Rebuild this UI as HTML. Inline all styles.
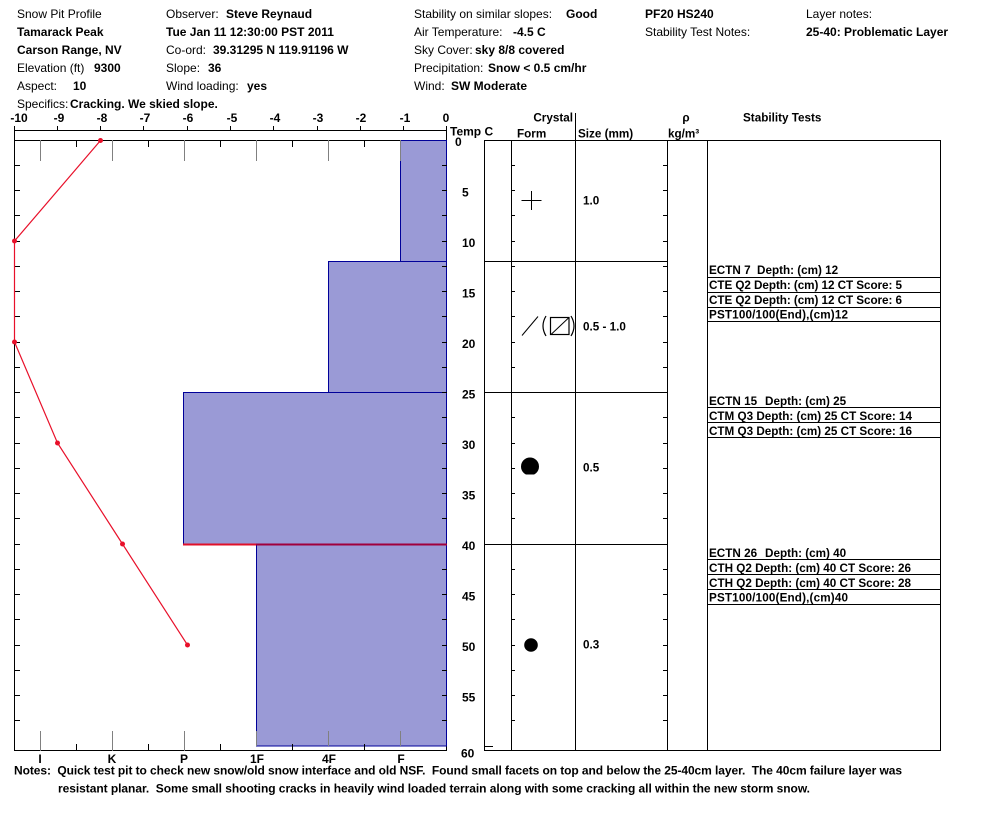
<!DOCTYPE html>
<html>
<head>
<meta charset="utf-8">
<style>
html,body{margin:0;padding:0;background:#fff;}
svg{display:block;}
text{font-family:"Liberation Sans",Arial,sans-serif;fill:#000;}
.h{font-size:12px;}
.b{font-weight:bold;}
.c{font-size:11.7px;font-weight:bold;}
</style>
</head>
<body>
<svg width="994" height="840" viewBox="0 0 994 840" xmlns="http://www.w3.org/2000/svg">
<rect x="0" y="0" width="994" height="840" fill="#fff"/>

<!-- Header -->
<g class="h">
<text x="17" y="18" class="h">Snow Pit Profile</text>
<text x="17" y="36" class="h b">Tamarack Peak</text>
<text x="17" y="54" class="h b">Carson Range, NV</text>
<text x="17" y="72" class="h">Elevation (ft)</text><text x="94" y="72" class="h b">9300</text>
<text x="17" y="90" class="h">Aspect:</text><text x="73" y="90" class="h b">10</text>
<text x="17" y="108" class="h">Specifics:</text><text x="70" y="108" class="h b">Cracking. We skied slope.</text>

<text x="166" y="18" class="h">Observer:</text><text x="226" y="18" class="h b">Steve Reynaud</text>
<text x="166" y="36" class="h b">Tue Jan 11 12:30:00 PST 2011</text>
<text x="166" y="54" class="h">Co-ord:</text><text x="213" y="54" class="h b">39.31295 N 119.91196 W</text>
<text x="166" y="72" class="h">Slope:</text><text x="208" y="72" class="h b">36</text>
<text x="166" y="90" class="h">Wind loading:</text><text x="247" y="90" class="h b">yes</text>

<text x="414" y="18" class="h">Stability on similar slopes:</text><text x="566" y="18" class="h b">Good</text>
<text x="414" y="36" class="h">Air Temperature:</text><text x="513" y="36" class="h b">-4.5 C</text>
<text x="414" y="54" class="h">Sky Cover:</text><text x="475" y="54" class="h b">sky 8/8 covered</text>
<text x="414" y="72" class="h">Precipitation:</text><text x="488" y="72" class="h b">Snow &lt; 0.5 cm/hr</text>
<text x="414" y="90" class="h">Wind:</text><text x="451" y="90" class="h b">SW Moderate</text>

<text x="645" y="18" class="h b">PF20 HS240</text>
<text x="645" y="36" class="h">Stability Test Notes:</text>
<text x="806" y="18" class="h">Layer notes:</text>
<text x="806" y="36" class="h b">25-40: Problematic Layer</text>
</g>

<!-- Temperature axis -->
<g class="h b" text-anchor="middle">
<text x="19" y="122" class="h b">-10</text>
<text x="59" y="122" class="h b">-9</text>
<text x="102" y="122" class="h b">-8</text>
<text x="145" y="122" class="h b">-7</text>
<text x="188" y="122" class="h b">-6</text>
<text x="232" y="122" class="h b">-5</text>
<text x="275" y="122" class="h b">-4</text>
<text x="318" y="122" class="h b">-3</text>
<text x="361" y="122" class="h b">-2</text>
<text x="405" y="122" class="h b">-1</text>
<text x="446" y="122" class="h b">0</text>
</g>
<path d="M14 130.5H447 M57.5 126V131 M100.5 126V131 M143.5 126V131 M187.5 126V131 M230.5 126V131 M273.5 126V131 M317.5 126V131 M360.5 126V131 M403.5 126V131 M14.5 126V140 M446.5 126V140" stroke="#000" stroke-width="1" fill="none"/>
<text x="450" y="135.5" class="c" style="font-size:12px">Temp C</text>

<!-- Graph box -->
<rect x="14.5" y="140.5" width="432" height="610" fill="#fff" stroke="#000" stroke-width="1"/>

<!-- Hardness bars -->
<g fill="#9a9ad6" stroke="#000099" stroke-width="1">
<rect x="400.5" y="140.5" width="46" height="121"/>
<rect x="328.5" y="261.5" width="118" height="131"/>
<rect x="183.5" y="392.5" width="263" height="152"/>
<rect x="256.5" y="544.5" width="190" height="201.5"/>
</g>
<!-- failure layer line -->
<line x1="183" y1="544.5" x2="256" y2="544.5" stroke="#e0102a" stroke-width="2"/>
<line x1="256" y1="544.5" x2="447" y2="544.5" stroke="#a0003c" stroke-width="2"/>

<!-- hardness gray lines & ticks -->
<path d="M40.5 140V161 M112.5 140V161 M184.5 140V161 M256.5 140V161 M328.5 140V161 M400.5 140V161 M40.5 731V751 M112.5 731V751 M184.5 731V751 M256.5 731V746 M328.5 731V746 M400.5 731V746" stroke="#808080" stroke-width="1"/>
<path d="M76.5 140V147 M148.5 140V147 M220.5 140V147 M292.5 140V147 M364.5 140V147 M76.5 744V751 M148.5 744V751 M220.5 744V751 M292.5 744V751 M364.5 744V751" stroke="#000" stroke-width="1"/>

<!-- depth ticks on graph edges and table -->
<path d="M14 165.5h6 M14 190.5h6 M14 215.5h6 M14 241.5h6 M14 266.5h6 M14 291.5h6 M14 316.5h6 M14 342.5h6 M14 367.5h6 M14 392.5h6 M14 417.5h6 M14 443.5h6 M14 468.5h6 M14 493.5h6 M14 518.5h6 M14 544.5h6 M14 569.5h6 M14 594.5h6 M14 619.5h6 M14 645.5h6 M14 670.5h6 M14 695.5h6 M14 720.5h6
M442 165.5h5 M442 190.5h5 M442 215.5h5 M442 241.5h5 M442 266.5h5 M442 291.5h5 M442 316.5h5 M442 342.5h5 M442 367.5h5 M442 392.5h5 M442 417.5h5 M442 443.5h5 M442 468.5h5 M442 493.5h5 M442 518.5h5 M442 569.5h5 M442 594.5h5 M442 619.5h5 M442 645.5h5 M442 670.5h5 M442 695.5h5 M442 720.5h5
M511 165.5h4 M511 190.5h4 M511 215.5h4 M511 241.5h4 M511 266.5h4 M511 291.5h4 M511 316.5h4 M511 342.5h4 M511 367.5h4 M511 417.5h4 M511 443.5h4 M511 468.5h4 M511 493.5h4 M511 518.5h4 M511 569.5h4 M511 594.5h4 M511 619.5h4 M511 645.5h4 M511 670.5h4 M511 695.5h4 M511 720.5h4
M663 165.5h4 M663 190.5h4 M663 215.5h4 M663 241.5h4 M663 266.5h4 M663 291.5h4 M663 316.5h4 M663 342.5h4 M663 367.5h4 M663 417.5h4 M663 443.5h4 M663 468.5h4 M663 493.5h4 M663 518.5h4 M663 569.5h4 M663 594.5h4 M663 619.5h4 M663 645.5h4 M663 670.5h4 M663 695.5h4 M663 720.5h4" stroke="#000" stroke-width="1" fill="none"/>

<!-- Temperature profile -->
<polyline points="100.5,140.5 14.5,241 14.5,342 57.5,443 122.5,544 187.5,645" fill="none" stroke="#e8102a" stroke-width="1.2"/>
<g fill="#e8102a">
<circle cx="100.5" cy="140.5" r="2.5"/>
<circle cx="14.5" cy="241" r="2.5"/>
<circle cx="14.5" cy="342" r="2.5"/>
<circle cx="57.5" cy="443" r="2.5"/>
<circle cx="122.5" cy="544" r="2.5"/>
<circle cx="187.5" cy="645" r="2.5"/>
</g>

<!-- hardness labels -->
<g text-anchor="middle">
<text x="40" y="763" class="h b">I</text>
<text x="112" y="763" class="h b">K</text>
<text x="184" y="763" class="h b">P</text>
<text x="257" y="763" class="h b">1F</text>
<text x="329" y="763" class="h b">4F</text>
<text x="401" y="763" class="h b">F</text>
</g>

<!-- depth labels -->
<text x="455" y="146" class="h b">0</text>
<text x="462" y="196.5" class="h b">5</text>
<text x="462" y="247" class="h b">10</text>
<text x="462" y="297.5" class="h b">15</text>
<text x="462" y="348" class="h b">20</text>
<text x="462" y="398.5" class="h b">25</text>
<text x="462" y="449" class="h b">30</text>
<text x="462" y="499.5" class="h b">35</text>
<text x="462" y="550" class="h b">40</text>
<text x="462" y="600.5" class="h b">45</text>
<text x="462" y="651" class="h b">50</text>
<text x="462" y="701.5" class="h b">55</text>
<text x="461" y="757.5" class="h b">60</text>

<!-- Table headers -->
<text x="573" y="121.5" class="c" text-anchor="end">Crystal</text>
<line x1="575.5" y1="113" x2="575.5" y2="140" stroke="#000"/>
<text x="517" y="137.5" class="c">Form</text>
<text x="578" y="137.5" class="c">Size (mm)</text>
<text x="686" y="121.5" class="c" text-anchor="middle">ρ</text>
<text x="668" y="137.5" class="c">kg/m³</text>
<text x="743" y="121.5" class="c">Stability Tests</text>

<!-- Table box -->
<rect x="484.5" y="140.5" width="456" height="610" fill="none" stroke="#000"/>
<path d="M511.5 140V751 M575.5 140V751 M667.5 140V751 M707.5 140V751 M484 261.5H667 M484 392.5H667 M484 544.5H667 M484 746.5H493" stroke="#000" stroke-width="1" fill="none"/>

<!-- Stability lines -->
<path d="M707 277.5H941 M707 292.5H941 M707 307.5H941 M707 321.5H941 M707 407.5H941 M707 422.5H941 M707 437.5H941 M707 559.5H941 M707 574.5H941 M707 589.5H941 M707 604.5H941" stroke="#000" stroke-width="1"/>

<!-- Stability text -->
<text x="709" y="274" class="c">ECTN 7</text><text x="757" y="274" class="c">Depth: (cm) 12</text>
<text x="709" y="289" class="c" textLength="193">CTE Q2 Depth: (cm) 12 CT Score: 5</text>
<text x="709" y="304" class="c" textLength="193">CTE Q2 Depth: (cm) 12 CT Score: 6</text>
<text x="709" y="318.5" class="c" textLength="139">PST100/100(End),(cm)12</text>

<text x="709" y="405" class="c">ECTN 15</text><text x="765" y="405" class="c">Depth: (cm) 25</text>
<text x="709" y="420" class="c" textLength="203">CTM Q3 Depth: (cm) 25 CT Score: 14</text>
<text x="709" y="435" class="c" textLength="203">CTM Q3 Depth: (cm) 25 CT Score: 16</text>

<text x="709" y="557" class="c">ECTN 26</text><text x="765" y="557" class="c">Depth: (cm) 40</text>
<text x="709" y="572" class="c" textLength="202">CTH Q2 Depth: (cm) 40 CT Score: 26</text>
<text x="709" y="587" class="c" textLength="202">CTH Q2 Depth: (cm) 40 CT Score: 28</text>
<text x="709" y="601.5" class="c" textLength="139">PST100/100(End),(cm)40</text>

<!-- Crystal forms -->
<path d="M521.5 200.5H541.5 M531.5 191V210" stroke="#000" stroke-width="1"/>
<path d="M522 335.5L538 316.5" stroke="#000" stroke-width="1"/>
<path d="M546 316 Q540 326 546 336" stroke="#000" stroke-width="1.2" fill="none"/>
<rect x="550.5" y="317.5" width="18.5" height="17" fill="none" stroke="#000" stroke-width="1.2"/>
<path d="M551 334.5L569 317.5" stroke="#000" stroke-width="1"/>
<path d="M571 316 Q577 326 571 336" stroke="#000" stroke-width="1.2" fill="none"/>

<clipPath id="cc"><rect x="515" y="450" width="30" height="24.5"/></clipPath>
<circle cx="530" cy="466.5" r="9" fill="#000" clip-path="url(#cc)"/>
<circle cx="531" cy="645" r="6.8" fill="#000"/>

<!-- Size values -->
<text x="583" y="204.5" class="c">1.0</text>
<text x="583" y="330.5" class="c">0.5 - 1.0</text>
<text x="583" y="471.5" class="c">0.5</text>
<text x="583" y="648.5" class="c">0.3</text>

<!-- Notes -->
<text x="14" y="774.5" class="h b" xml:space="preserve" textLength="888" lengthAdjust="spacing">Notes:  Quick test pit to check new snow/old snow interface and old NSF.  Found small facets on top and below the 25-40cm layer.  The 40cm failure layer was</text>
<text x="58" y="792.5" class="h b" xml:space="preserve" textLength="752" lengthAdjust="spacing">resistant planar.  Some small shooting cracks in heavily wind loaded terrain along with some cracking all within the new storm snow.</text>
</svg>
</body>
</html>
